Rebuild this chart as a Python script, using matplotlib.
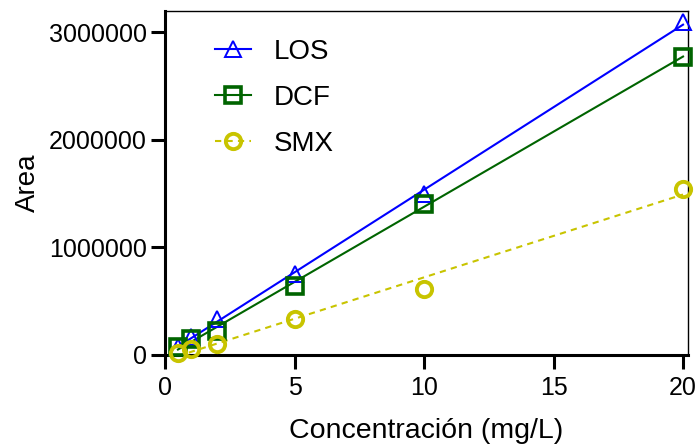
import numpy as np
import matplotlib
matplotlib.use("Agg")
import matplotlib.pyplot as plt

plt.rcParams['font.family'] = ['Liberation Sans', 'DejaVu Sans']

conc = [0.5, 1, 2, 5, 10, 20]
los = [68000, 168000, 333000, 755000, 1490000, 3090000]
dcf = [68000, 146000, 224000, 643000, 1400000, 2770000]
smx = [15000, 53000, 105000, 335000, 615000, 1540000]

labels = ["LOS", "DCF", "SMX"]
series = [los, dcf, smx]
colors = ["#0000FF", "#006400", "#C8C400"]
markers = ["^", "s", "o"]
styles = ["-", "-", "--"]
msizes = [11, 11, 11]
mews = [1.4, 2.6, 2.8]

fig = plt.figure(figsize=(6.96, 4.46), dpi=100)
ax = fig.add_axes([165/696, 1-354.8/446, (687.7-165)/696, (354.8-10.5)/446])

x = np.array(conc)
xfit = np.array([min(conc), max(conc)])
handles = []
for lab, y, c, m, ls, ms, mew in zip(labels, series, colors, markers, styles, msizes, mews):
    k, b = np.polyfit(x, np.array(y), 1)
    ln, = ax.plot(xfit, k*xfit + b, color=c, ls=ls, lw=1.5, clip_on=False)
    ax.plot(x, y, ls="none", marker=m, ms=ms, mfc="none", mec=c, mew=mew, clip_on=False, zorder=3)
    h, = ax.plot([], [], color=c, ls=ls, lw=1.5, marker=m, ms=ms, mfc="none", mec=c, mew=mew)
    if ls == "--":
        ln.set_dashes((3, 2.5))
        h.set_dashes((3, 2.5))
    handles.append(h)

ax.set_xlim(0, 20.18)
ax.set_ylim(0, 3200000)
ax.set_xticks([0, 5, 10, 15, 20])
ax.set_yticks([0, 1000000, 2000000, 3000000])
ax.set_yticklabels(["0", "1000000", "2000000", "3000000"])

for s in ["left", "bottom"]:
    ax.spines[s].set_linewidth(2.2)
for s in ["top", "right"]:
    ax.spines[s].set_linewidth(1.0)
ax.tick_params(axis="both", which="major", direction="out", length=10, width=2.2, labelsize=18)
ax.tick_params(axis="x", pad=5)
ax.tick_params(axis="y", pad=3)
ax.tick_params(top=False, right=False)

ax.set_xlabel("Concentración (mg/L)", fontsize=20.5, labelpad=13)
ax.set_ylabel("Area", fontsize=20, labelpad=6)

leg = ax.legend(handles, labels, loc="upper left", bbox_to_anchor=(0.075, 0.95), frameon=False,
                fontsize=20, handlelength=1.3, handletextpad=0.8, labelspacing=0.72, borderaxespad=0.0)

fig.savefig("out.png", dpi=100)
